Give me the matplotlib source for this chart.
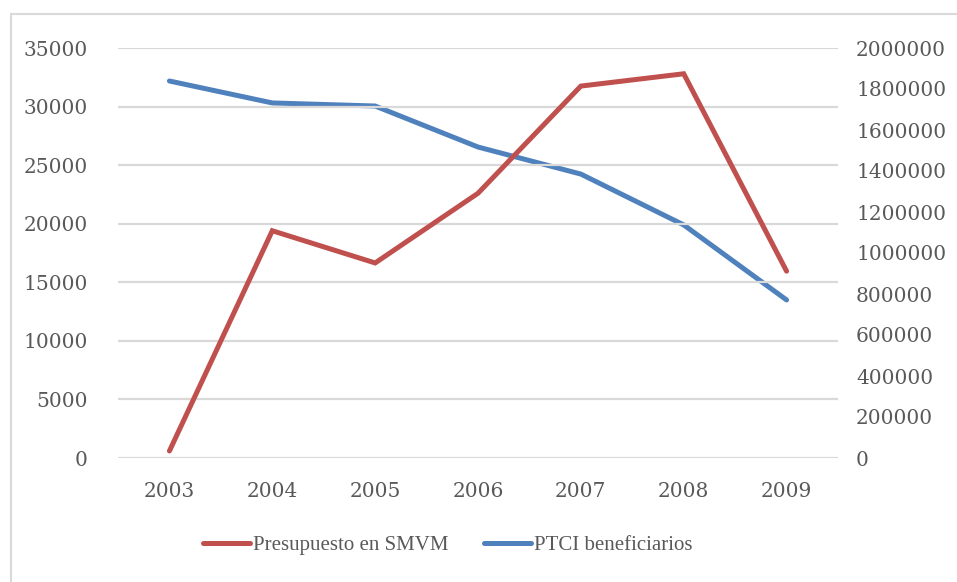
import numpy as np
import matplotlib.pyplot as plt
from matplotlib.patches import Rectangle


# ==========================================
# DATA
# ==========================================

years = ["2003", "2004", "2005", "2006", "2007", "2008", "2009"]

presupuesto = [600, 19400, 16650, 22600, 31750, 32800, 15950]

beneficiarios = [1839000, 1732000, 1717000, 1517000, 1385000, 1137000, 771000]

left_ticks = [0, 5000, 10000, 15000, 20000, 25000, 30000, 35000]
right_ticks = [0, 200000, 400000, 600000, 800000, 1000000,
               1200000, 1400000, 1600000, 1800000, 2000000]


# ==========================================
# STYLE
# ==========================================

RED = "#c0504d"
BLUE = "#4f81bd"
TXT = "#595959"
GRID = "#d9d9d9"

plt.rcParams["font.family"] = ["DejaVu Serif"]

W, H = 957, 582


# ==========================================
# Plot
# ==========================================

fig = plt.figure(figsize=(W / 100, H / 100), dpi=100)

# outer frame (only top and left are visible)
fig.patches.append(
    Rectangle((11 / W, -0.2), 1.2, 1.2 - 14 / H,
              transform=fig.transFigure, fill=False,
              edgecolor="#d9d9d9", linewidth=1.5)
)

ax = fig.add_axes([118 / W, 1 - 458 / H, 720 / W, 410 / H])
ax2 = ax.twinx()

x = np.arange(len(years))

ax.plot(x, presupuesto, color=RED, linewidth=3.6,
        solid_capstyle="round", solid_joinstyle="miter",
        label="Presupuesto en SMVM", zorder=3)
ax2.plot(x, beneficiarios, color=BLUE, linewidth=3.6,
         solid_capstyle="round", solid_joinstyle="miter",
         label="PTCI beneficiarios", zorder=3)

ax.set_xlim(-0.5, len(years) - 0.5)
ax.set_ylim(0, 35000)
ax2.set_ylim(0, 2000000)

ax.set_yticks(left_ticks)
ax.set_yticklabels([str(v) for v in left_ticks])
ax2.set_yticks(right_ticks)
ax2.set_yticklabels([str(v) for v in right_ticks])
ax.set_xticks(x)
ax.set_xticklabels(years)

for a in (ax, ax2):
    for s in a.spines.values():
        s.set_visible(False)
    a.tick_params(length=0, colors=TXT, labelsize=14.5)

ax.tick_params(axis="y", pad=22)
ax2.tick_params(axis="y", pad=13)
ax.tick_params(axis="x", pad=17)

ax.grid(axis="y", color=GRID, linewidth=1.6)
ax.set_axisbelow(True)

# red line drawn above the blue one
ax.set_zorder(ax2.get_zorder() + 1)
ax.patch.set_visible(False)

h1, l1 = ax.get_legend_handles_labels()
h2, l2 = ax2.get_legend_handles_labels()

leg = fig.legend(
    h1 + h2, l1 + l2,
    loc="center",
    bbox_to_anchor=(448 / W, 1 - 545 / H),
    ncol=2,
    frameon=False,
    prop={"family": "Liberation Serif", "size": 15},
    handlelength=2.25,
    handletextpad=0.15,
    columnspacing=1.7,
    borderpad=0,
)
for t in leg.get_texts():
    t.set_color(TXT)

plt.savefig("out.png", dpi=100)
plt.close()
